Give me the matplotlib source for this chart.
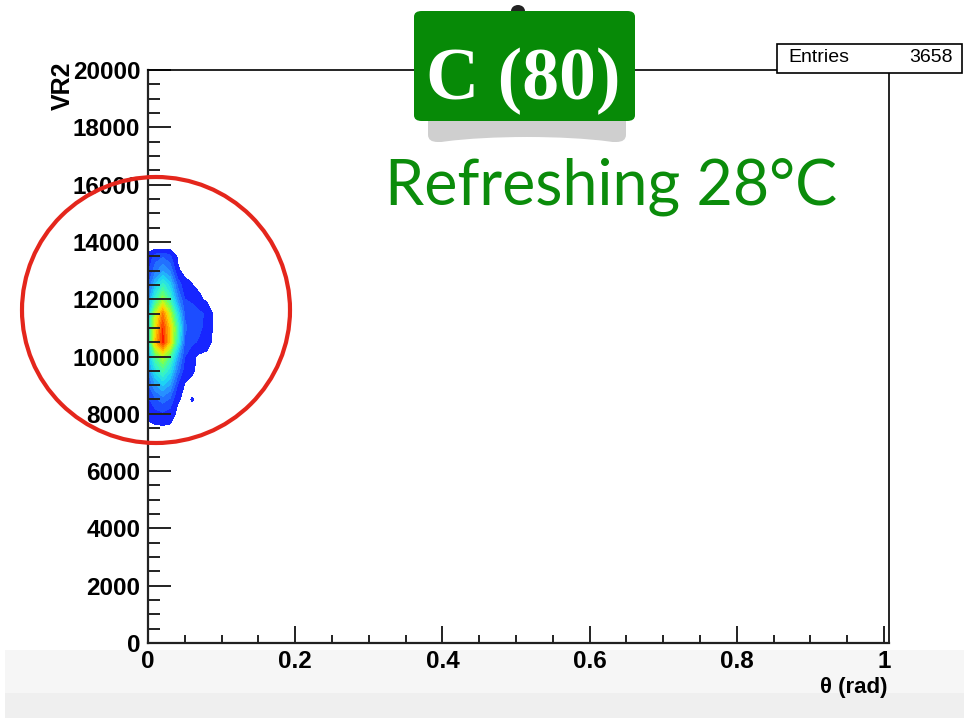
import numpy as np
import matplotlib
matplotlib.use('Agg')
from matplotlib import pyplot as plt
from matplotlib.colors import LinearSegmentedColormap
from matplotlib.patches import Rectangle, Ellipse, FancyBboxPatch
from matplotlib.ticker import MultipleLocator

# bin centres of the 2D histogram
theta_bins = [0.0, 0.01, 0.02, 0.03, 0.04, 0.05, 0.06, 0.07, 0.08, 0.09, 0.10]
vr2_bins = [7500, 8000, 8500, 9000, 9500, 10000, 10500,
            11000, 11500, 12000, 12500, 13000, 13500, 13750, 14000]
# entries per bin, one row per VR2 bin (bottom to top)
counts = [
    [0, 0, 0, 0, 0, 0, 0, 0, 0, 0, 0],
    [2, 4, 5, 3.5, 0, 0, 0, 0, 0, 0, 0],
    [5, 10, 13, 10, 1.6, 0, 1.2, 0, 0, 0, 0],
    [10, 20, 26, 20, 6, 0.5, 0, 0, 0, 0, 0],
    [16, 32, 42, 32, 14, 3, 1.5, 0, 0, 0, 0],
    [22, 45, 60, 45, 22, 6, 2, 0, 0, 0, 0],
    [30, 75, 97, 72, 38, 10, 7, 5, 2.5, 0, 0],
    [30, 68, 95, 72, 42, 12, 8, 7, 4, 0, 0],
    [24, 60, 85, 60, 32, 10, 8, 7, 5, 0, 0],
    [16, 38, 55, 40, 18, 6, 5, 1.8, 0, 0, 0],
    [10, 26, 38, 28, 10, 2.2, 1.1, 0, 0, 0, 0],
    [5, 14, 20, 15, 1.6, 0, 0, 0, 0, 0, 0],
    [1.5, 8, 10, 7, 0.5, 0, 0, 0, 0, 0, 0],
    [0.5, 0.8, 0.9, 0.9, 0, 0, 0, 0, 0, 0, 0],
    [0, 0, 0, 0, 0, 0, 0, 0, 0, 0, 0],
]
n_entries = 3658
title_text = 'C (80)'
subtitle_text = 'Refreshing 28\u00b0C'

palette = ['#1414ff', '#1e5aff', '#2896ff', '#1ed2f5', '#32f0d2', '#50ff8c',
           '#8cff3c', '#d2f514', '#ffd200', '#ff9600', '#ff5a00', '#ff0000']
cmap = LinearSegmentedColormap.from_list('root_palette', palette)

W, H = 964, 718
fig = plt.figure(figsize=(W / 100, H / 100), dpi=100)


def fx(px):
    return px / W


def fy(py):
    return 1 - py / H


# grey slide footer
fig.add_artist(Rectangle((fx(5), fy(693)), fx(959), 43 / H, transform=fig.transFigure,
                         facecolor='#f6f6f6', edgecolor='none', zorder=-5))
fig.add_artist(Rectangle((fx(5), fy(718)), fx(959), 25 / H, transform=fig.transFigure,
                         facecolor='#efefef', edgecolor='none', zorder=-5))

ax = fig.add_axes([fx(148), fy(643), fx(889) - fx(148), (643 - 70) / H])
ax.contourf(theta_bins, vr2_bins, counts, levels=np.linspace(1, 100, 21), cmap=cmap)
ax.set_xlim(0, 1.0068)
ax.set_ylim(0, 20000)

ax.xaxis.set_major_locator(MultipleLocator(0.2))
ax.xaxis.set_minor_locator(MultipleLocator(0.05))
ax.yaxis.set_major_locator(MultipleLocator(2000))
ax.yaxis.set_minor_locator(MultipleLocator(500))
ax.xaxis.set_major_formatter(lambda v, p: '%g' % round(v, 2))
ax.yaxis.set_major_formatter(lambda v, p: '%d' % v)
ax.tick_params(axis='both', which='both', direction='in', width=1.4, color='#222222',
               top=False, right=False)
ax.tick_params(axis='y', which='major', length=16.5, pad=5.5)
ax.tick_params(axis='y', which='minor', length=8.5)
ax.tick_params(axis='x', which='major', length=12, pad=5)
ax.tick_params(axis='x', which='minor', length=5.5)
for lab in ax.get_xticklabels() + ax.get_yticklabels():
    lab.set_fontfamily('Liberation Sans')
    lab.set_fontweight('bold')
    lab.set_fontsize(17.5)
for side in ['left', 'bottom']:
    ax.spines[side].set_linewidth(1.6)
    ax.spines[side].set_color('#222222')
for side in ['top', 'right']:
    ax.spines[side].set_linewidth(1.2)

fig.text(fx(63), fy(62), 'VR2', rotation=90, ha='center', va='top',
         fontfamily='Liberation Sans', fontweight='bold', fontsize=18)
fig.text(fx(888), fy(688), '\u03b8 (rad)', ha='right', va='center',
         fontfamily='Liberation Sans', fontweight='bold', fontsize=16)

# statistics box
fig.add_artist(Rectangle((fx(777), fy(73)), fx(185), 29 / H, transform=fig.transFigure,
                         facecolor='white', edgecolor='black', linewidth=1.2, zorder=10))
fig.text(fx(788), fy(58), 'Entries', ha='left', va='center', fontfamily='Liberation Sans',
         fontsize=14, zorder=11)
fig.text(fx(953), fy(58), str(n_entries), ha='right', va='center',
         fontfamily='Liberation Sans', fontsize=14, zorder=11)

# ring around the populated region
fig.add_artist(Ellipse((fx(156), fy(310)), 268 / W, 266 / H, transform=fig.transFigure,
                       facecolor='none', edgecolor='#e4261c', linewidth=3, zorder=12))

# green label with its shadow
fig.add_artist(FancyBboxPatch((fx(428), fy(142)), fx(198), 28 / H, transform=fig.transFigure,
                              boxstyle='round,pad=0,rounding_size=0.01',
                              facecolor='#a8a8a8', edgecolor='none', alpha=0.55, zorder=12))
fig.add_artist(Ellipse((fx(527), fy(152)), 230 / W, 30 / H, transform=fig.transFigure,
                       facecolor='white', edgecolor='none', zorder=12.5))
fig.add_artist(Ellipse((fx(518), fy(11)), 14 / W, 12 / H, transform=fig.transFigure,
                       facecolor='#222222', edgecolor='none', zorder=12.6))
fig.add_artist(FancyBboxPatch((fx(414), fy(121)), fx(221), 110 / H, transform=fig.transFigure,
                              boxstyle='round,pad=0,rounding_size=0.008',
                              facecolor='#078a07', edgecolor='none', zorder=13))
fig.text(fx(523), fy(99), title_text, ha='center', va='baseline', color='white',
         fontfamily='Liberation Serif', fontweight='bold', fontsize=53, zorder=14)
sub = fig.text(fx(385), fy(205), subtitle_text, ha='left', va='baseline', color='#0b8c0b',
               fontfamily=['Lato', 'DejaVu Sans'], fontsize=54, zorder=14)
# shrink the subtitle to its line width
fig.canvas.draw()
w = sub.get_window_extent().width
sub.set_fontsize(54 * 452 / w)

fig.savefig('out.png', dpi=100)
